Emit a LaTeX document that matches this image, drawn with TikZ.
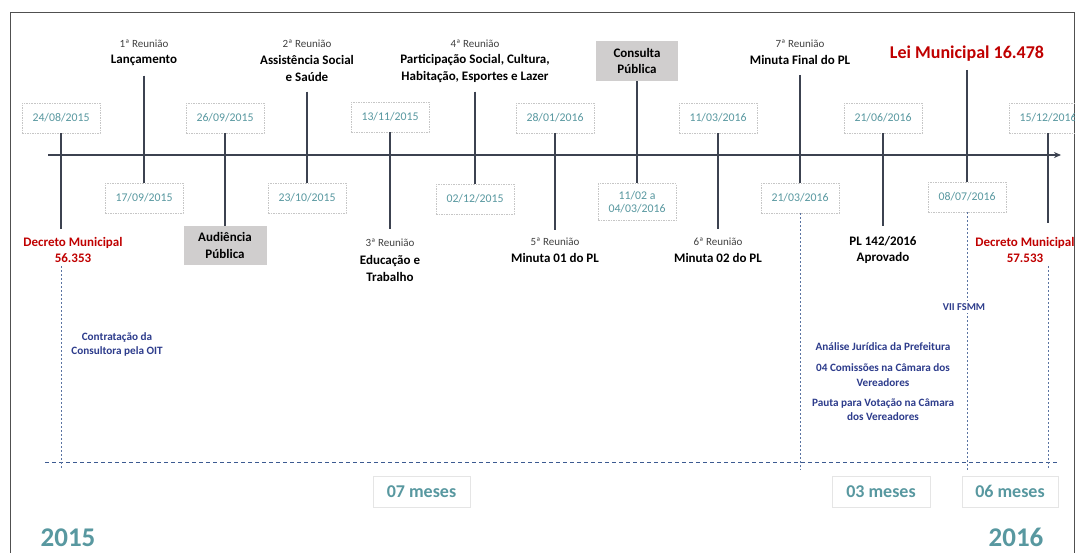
\documentclass[tikz,border=0pt]{standalone}
\usepackage{fontspec}
\setmainfont{Carlito}
\usetikzlibrary{arrows.meta}
\definecolor{dteal}{RGB}{88,152,160}
\definecolor{tickc}{RGB}{60,66,80}
\definecolor{dred}{RGB}{192,0,0}
\definecolor{navy}{RGB}{45,60,140}
\definecolor{dline}{RGB}{60,90,145}
\definecolor{gbox}{RGB}{208,206,206}
\definecolor{framec}{RGB}{80,80,80}
\newcommand\fsz[2]{\fontsize{#1}{#2}\selectfont}
\tikzset{
  datebox/.style={draw=gray!45, dash pattern=on 1.5pt off 1pt, line width=0.6pt,
    minimum width=78pt, minimum height=30pt, inner sep=1pt, text=dteal,
    font=\fsz{11.8}{13.5}, align=center},
  stem/.style={draw=tickc, line width=2pt},
  hdr/.style={font=\fsz{11}{12}, text=black!75, inner sep=0pt},
  ttl/.style={font=\bfseries\fsz{13}{16.5}, align=center, inner sep=0pt},
  redttl/.style={ttl, text=dred},
  graybox/.style={fill=gbox, font=\bfseries\fsz{13}{16.5}, align=center,
    minimum width=83pt, minimum height=39pt, inner sep=1pt},
  note/.style={font=\bfseries\fsz{11.2}{14.5}, text=navy, align=center, inner sep=1pt},
  vdash/.style={draw=dline!85, line width=0.8pt, dash pattern=on 2pt off 2pt},
  hdash/.style={draw=dline, line width=1pt, dash pattern=on 4pt off 3pt},
  mesesbox/.style={draw=gray!20, line width=0.6pt, minimum width=97pt,
    minimum height=31pt, text=dteal, font=\bfseries\fsz{18}{20}},
  yearlbl/.style={text=dteal, font=\bfseries\fsz{27}{30}, inner sep=0pt}
}
\begin{document}
\begin{tikzpicture}[x=1pt,y=-1pt]
\useasboundingbox[fill=white] (0,0) rectangle (1075,552);
\draw[framec, line width=1pt] (10,12) rectangle (1074,600);

% timeline
\coordinate (t0) at (48,155);
\coordinate (t1) at (1061,155);
\draw[tickc, line width=1.6pt, -{Stealth[length=7pt,width=6pt]}] (t0) -- (t1);

% dashed horizontal
\coordinate (h0) at (45,462);
\coordinate (h1) at (1057,462);
\draw[hdash] (h0) -- (h1);

% Event 1
\node[datebox] (d1) at (61,118) {24/08/2015};
\node[redttl] (l1) at (73,250) {Decreto Municipal\\56.353};
\draw[stem, shorten >=8pt] (d1.south) -- (d1.south |- l1.north);
\coordinate (v1) at (61,470);
\draw[vdash, shorten <=3pt] (d1.south |- l1.south) -- (v1);

% Event 2
\node[hdr] (h2) at (144,44) {1ª Reunião};
\node[ttl] (t2) at (144,60) {Lançamento};
\node[datebox] (d2) at (144,198) {17/09/2015};
\draw[stem, shorten <=10pt] (t2.south) -- (d2.north);

% Event 3
\node[datebox] (d3) at (225,118) {26/09/2015};
\node[graybox] (g3) at (225,245.5) {Audiência\\Pública};
\draw[stem] (d3.south) -- (g3.north);

% Event 4
\node[hdr] (h4) at (307,44) {2ª Reunião};
\node[ttl] (t4) at (307,68.5) {Assistência Social\\e Saúde};
\node[datebox] (d4) at (307,198) {23/10/2015};
\draw[stem, shorten <=10pt] (t4.south) -- (d4.north);

% Event 5
\node[datebox] (d5) at (390,117) {13/11/2015};
\node[hdr] (h5) at (390,243) {3ª Reunião};
\node[ttl] (t5) at (390,268.5) {Educação e\\Trabalho};
\draw[stem, shorten >=10pt] (d5.south) -- (h5.north);

% Event 6
\node[hdr] (h6) at (475,44) {4ª Reunião};
\node[ttl] (t6) at (475,68.5) {Participação Social, Cultura,\\Habitação, Esportes e Lazer};
\node[datebox] (d6) at (475,199) {02/12/2015};
\draw[stem, shorten <=9pt] (t6.south) -- (d6.north);

% Event 7
\node[datebox] (d7) at (555,118) {28/01/2016};
\node[hdr] (h7) at (555,242) {5ª Reunião};
\node[ttl] (t7) at (555,258) {Minuta 01 do PL};
\draw[stem, shorten >=8pt] (d7.south) -- (h7.north);

% Event 8
\node[graybox, minimum width=82pt, minimum height=40pt] (g8) at (637,61) {Consulta\\Pública};
\node[datebox, minimum height=37pt] (d8) at (637,202) {11/02 a\\04/03/2016};
\draw[stem] (g8.south) -- (d8.north);

% Event 9
\node[datebox] (d9) at (718,118) {11/03/2016};
\node[hdr] (h9) at (718,242) {6ª Reunião};
\node[ttl] (t9) at (718,258) {Minuta 02 do PL};
\draw[stem, shorten >=9pt] (d9.south) -- (h9.north);

% Event 10
\node[hdr] (h10) at (800,44) {7ª Reunião};
\node[ttl] (t10) at (800,60) {Minuta Final do PL};
\node[datebox] (d10) at (800,198) {21/03/2016};
\draw[stem, shorten <=10pt] (t10.south) -- (d10.north);
\coordinate (v10) at (800,470);
\draw[vdash] (d10.south) -- (v10);

% Event 11
\node[datebox] (d11) at (883,118) {21/06/2016};
\node[ttl] (t11) at (883,250) {PL 142/2016\\Aprovado};
\draw[stem, shorten >=10pt] (d11.south) -- (t11.north);

% Event 12
\node[redttl, font=\bfseries\fsz{18}{20}] (t12) at (967,54) {Lei Municipal 16.478};
\node[datebox] (d12) at (967,197) {08/07/2016};
\draw[stem, shorten <=8pt] (t12.south) -- (d12.north);
\coordinate (v12) at (967,470);
\draw[vdash] (d12.south) -- (v12);
\node[note, fill=white, inner sep=3pt, font=\bfseries\fsz{10.5}{12}] (n3) at (964,307) {VII FSMM};

% Event 13
\node[datebox] (d13) at (1048,118) {15/12/2016};
\node[redttl] (l13) at (1025,250) {Decreto Municipal\\57.533};
\draw[stem, shorten >=14pt] (d13.south) -- (d13.south |- l13.north);
\coordinate (v13) at (1048,470);
\draw[vdash, shorten <=3pt] (d13.south |- l13.south) -- (v13);

% notes
\node[note] (n1) at (117,344.5) {Contratação da\\Consultora pela OIT};
\node[note] (n4) at (883,347) {Análise Jurídica da Prefeitura};
\node[note] (n5) at (883,375) {04 Comissões na Câmara dos\\Vereadores};
\node[note] (n6) at (883,409.5) {Pauta para Votação na Câmara\\dos Vereadores};

% months
\node[mesesbox] (m1) at (421.5,491.5) {07 meses};
\node[mesesbox, minimum width=98pt] (m2) at (881,491.5) {03 meses};
\node[mesesbox, minimum width=96pt] (m3) at (1010,491.5) {06 meses};

% years
\node[yearlbl] (y1) at (68,538) {2015};
\node[yearlbl] (y2) at (1016,537) {2016};
\end{tikzpicture}
\end{document}
